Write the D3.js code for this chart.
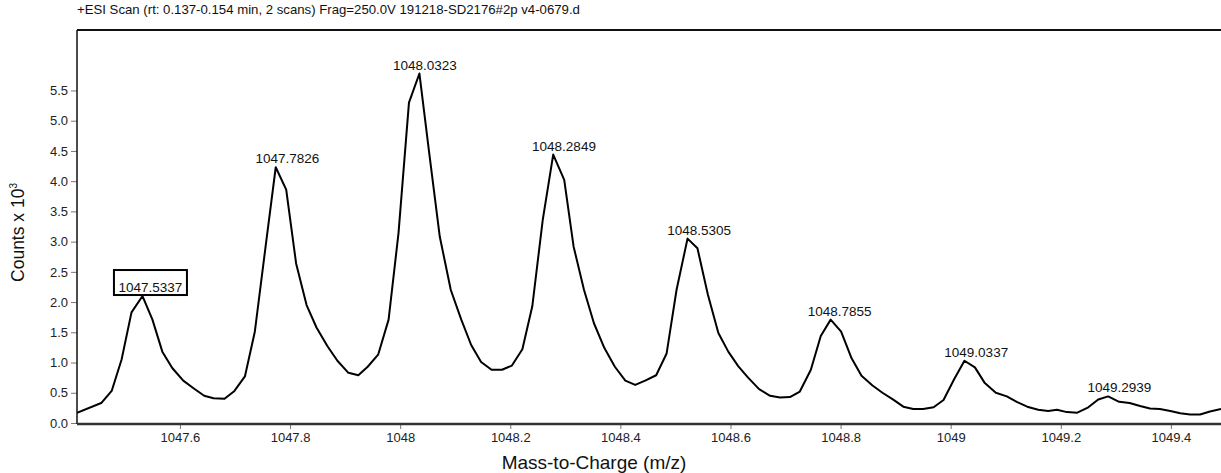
<!DOCTYPE html>
<html>
<head>
<meta charset="utf-8">
<script src="https://cdn.jsdelivr.net/npm/d3@7"></script>
<style>
  body { margin: 0; background: #fff; }
  svg { display: block; font-family: "Liberation Sans", Arial, sans-serif; }
</style>
</head>
<body>
<div id="chartArea"></div>
<script>
// profile spectrum (m/z, counts x 10^3)
var mzValues = [
  1047.413, 1047.457, 1047.476, 1047.494, 1047.512, 1047.532, 1047.550, 1047.568, 1047.586, 1047.606,
  1047.624, 1047.644, 1047.661, 1047.681, 1047.699, 1047.718, 1047.736, 1047.756, 1047.774, 1047.793,
  1047.811, 1047.830, 1047.848, 1047.868, 1047.886, 1047.906, 1047.924, 1047.941, 1047.960, 1047.979,
  1047.997, 1048.016, 1048.035, 1048.052, 1048.072, 1048.092, 1048.111, 1048.129, 1048.147, 1048.166,
  1048.185, 1048.203, 1048.222, 1048.240, 1048.259, 1048.278, 1048.298, 1048.315, 1048.334, 1048.352,
  1048.371, 1048.390, 1048.409, 1048.427, 1048.445, 1048.465, 1048.484, 1048.502, 1048.522, 1048.540,
  1048.559, 1048.578, 1048.596, 1048.614, 1048.632, 1048.652, 1048.672, 1048.690, 1048.708, 1048.726,
  1048.746, 1048.764, 1048.782, 1048.801, 1048.820, 1048.838, 1048.858, 1048.876, 1048.895, 1048.914,
  1048.932, 1048.950, 1048.969, 1048.987, 1049.006, 1049.025, 1049.044, 1049.062, 1049.082, 1049.102,
  1049.120, 1049.139, 1049.159, 1049.177, 1049.193, 1049.211, 1049.230, 1049.250, 1049.268, 1049.286,
  1049.306, 1049.325, 1049.344, 1049.362, 1049.380, 1049.399, 1049.417, 1049.435, 1049.453, 1049.471,
  1049.491
];
var counts = [
  0.17, 0.33, 0.53, 1.05, 1.83, 2.10, 1.71, 1.18, 0.91, 0.70,
  0.58, 0.45, 0.41, 0.40, 0.53, 0.77, 1.51, 2.95, 4.23, 3.86,
  2.64, 1.95, 1.58, 1.27, 1.03, 0.83, 0.79, 0.93, 1.13, 1.71,
  3.14, 5.30, 5.78, 4.52, 3.08, 2.20, 1.71, 1.29, 1.01, 0.88,
  0.88, 0.95, 1.22, 1.93, 3.36, 4.44, 4.02, 2.92, 2.20, 1.65,
  1.24, 0.93, 0.70, 0.63, 0.70, 0.79, 1.15, 2.20, 3.05, 2.89,
  2.12, 1.49, 1.18, 0.94, 0.75, 0.56, 0.45, 0.42, 0.43, 0.52,
  0.88, 1.44, 1.71, 1.51, 1.07, 0.78, 0.62, 0.50, 0.39, 0.27,
  0.23, 0.23, 0.26, 0.38, 0.72, 1.03, 0.92, 0.66, 0.50, 0.44,
  0.35, 0.27, 0.22, 0.20, 0.22, 0.18, 0.17, 0.26, 0.39, 0.44,
  0.35, 0.33, 0.28, 0.24, 0.23, 0.20, 0.16, 0.14, 0.14, 0.19,
  0.23
];

// labelled peaks (first one is boxed)
var peakMz = [1047.5337, 1047.7826, 1048.0323, 1048.2849, 1048.5305, 1048.7855, 1049.0337, 1049.2939];
var peakCounts = [2.10, 4.23, 5.78, 4.44, 3.05, 1.71, 1.03, 0.44];
var peakLabels = ["1047.5337", "1047.7826", "1048.0323", "1048.2849", "1048.5305", "1048.7855", "1049.0337", "1049.2939"];
var boxedPeak = 0;

var xTicks = [1047.6, 1047.8, 1048, 1048.2, 1048.4, 1048.6, 1048.8, 1049, 1049.2, 1049.4];
var yTicks = [0, 0.5, 1, 1.5, 2, 2.5, 3, 3.5, 4, 4.5, 5, 5.5];

var titleText = "+ESI Scan (rt: 0.137-0.154 min, 2 scans) Frag=250.0V 191218-SD2176#2p v4-0679.d";
var xTitle = "Mass-to-Charge (m/z)";

var width = 1221, height = 473;
var margin = {top: 30, right: 0, bottom: 50, left: 77};

var svg = d3.select("#chartArea").append("svg")
    .attr("width", width)
    .attr("height", height);

var x = d3.scaleLinear()
    .domain([1047.413, 1049.491])
    .range([margin.left, width - margin.right]);

var y = d3.scaleLinear()
    .domain([0, 6.5])
    .range([height - margin.bottom, margin.top]);

svg.append("clipPath").attr("id", "plotClip")
  .append("rect")
    .attr("x", margin.left)
    .attr("y", margin.top)
    .attr("width", width - margin.left - margin.right)
    .attr("height", height - margin.top - margin.bottom);

// title
svg.append("text")
    .attr("x", margin.left)
    .attr("y", 14)
    .attr("font-size", "13.2px")
    .attr("fill", "#111")
    .text(titleText);

// y axis
var yAxis = d3.axisLeft(y)
    .tickValues(yTicks)
    .tickFormat(d3.format(".1f"))
    .tickSize(6)
    .tickPadding(3);

var yg = svg.append("g")
    .attr("transform", "translate(" + margin.left + ",0)")
    .call(yAxis);
yg.select(".domain").remove();
yg.selectAll(".tick line").attr("stroke", "#777");
yg.selectAll(".tick text").attr("font-size", "13px").attr("fill", "#222")
    .attr("font-family", "Liberation Sans, Arial, sans-serif");

// x axis
var xAxis = d3.axisBottom(x)
    .tickValues(xTicks)
    .tickFormat(function (d) { return String(+d.toFixed(1)); })
    .tickSize(6)
    .tickPadding(4);

var xg = svg.append("g")
    .attr("transform", "translate(0," + y(0) + ")")
    .call(xAxis);
xg.select(".domain").remove();
xg.selectAll(".tick line").attr("stroke", "#777");
xg.selectAll(".tick text").attr("font-size", "13px").attr("fill", "#222")
    .attr("font-family", "Liberation Sans, Arial, sans-serif");

// frame: left + top in black, bottom axis thick grey
svg.append("line")
    .attr("x1", margin.left).attr("x2", width)
    .attr("y1", margin.top).attr("y2", margin.top)
    .attr("stroke", "#111").attr("stroke-width", 1.8);
svg.append("line")
    .attr("x1", margin.left).attr("x2", margin.left)
    .attr("y1", margin.top).attr("y2", y(0) + 1)
    .attr("stroke", "#111").attr("stroke-width", 1.5);
svg.append("line")
    .attr("x1", margin.left).attr("x2", width)
    .attr("y1", y(0) + 1).attr("y2", y(0) + 1)
    .attr("stroke", "#333").attr("stroke-width", 2.5);

// axis titles
svg.append("text")
    .attr("x", 594)
    .attr("y", 469)
    .attr("text-anchor", "middle")
    .attr("font-size", "19px")
    .attr("fill", "#111")
    .text(xTitle);

var yt = svg.append("text")
    .attr("transform", "translate(24," + ((margin.top + y(0)) / 2 + 6) + ") rotate(-90)")
    .attr("text-anchor", "middle")
    .attr("font-size", "17.5px")
    .attr("fill", "#111");
yt.append("tspan").text("Counts x 10");
yt.append("tspan").attr("font-size", "10px").attr("dy", "-7").text("3");

// spectrum line
var points = d3.zip(mzValues, counts);
var line = d3.line()
    .x(function (d) { return x(d[0]); })
    .y(function (d) { return y(d[1]); });

svg.append("path")
    .datum(points)
    .attr("clip-path", "url(#plotClip)")
    .attr("fill", "none")
    .attr("stroke", "#000")
    .attr("stroke-width", 2)
    .attr("stroke-linejoin", "round")
    .attr("d", line);

// peak labels
var labelGroup = svg.append("g");
peakMz.forEach(function (mz, i) {
    var lx = x(mz) + 7;
    var ly = y(peakCounts[i]) - 4;
    if (i == boxedPeak) {
        labelGroup.append("rect")
            .attr("x", lx - 36.5)
            .attr("y", ly - 22)
            .attr("width", 73)
            .attr("height", 25)
            .attr("fill", "#fff")
            .attr("stroke", "#000")
            .attr("stroke-width", 2);
    }
    labelGroup.append("text")
        .attr("x", lx)
        .attr("y", ly)
        .attr("text-anchor", "middle")
        .attr("font-size", "13.5px")
        .attr("fill", "#111")
        .text(peakLabels[i]);
});
</script>
</body>
</html>
